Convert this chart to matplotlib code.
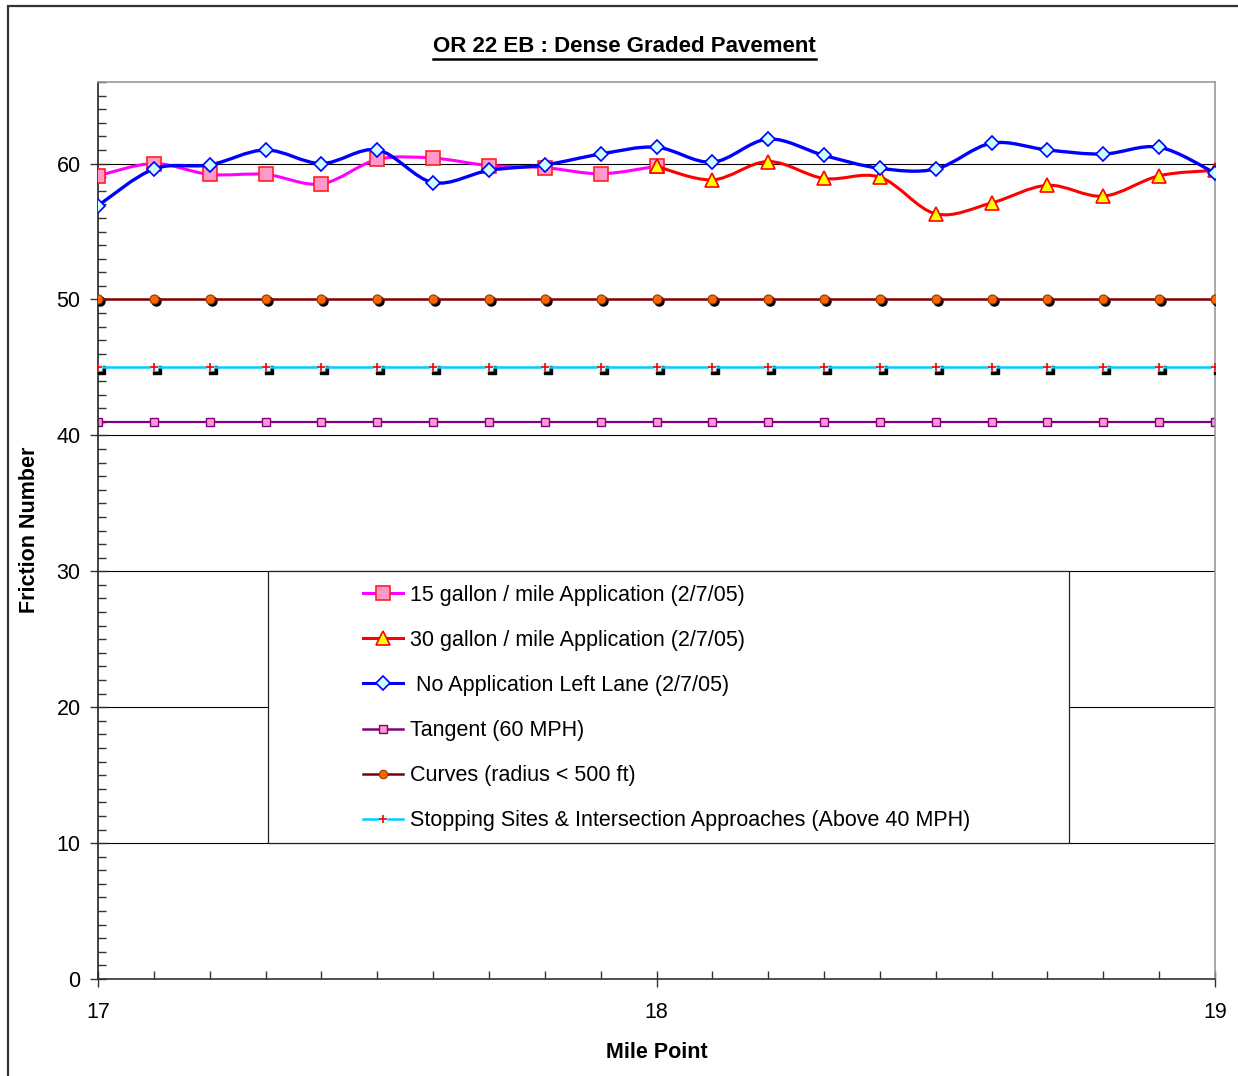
import matplotlib
matplotlib.use("Agg")
import matplotlib.pyplot as plt
import matplotlib.transforms as mtransforms
import numpy as np
from matplotlib.lines import Line2D
from matplotlib.patches import PathPatch, Rectangle
from matplotlib.path import Path

plt.rcParams["font.family"] = ["Liberation Sans", "DejaVu Sans"]

W, H = 1238, 1076

mile = [17.0, 17.1, 17.2, 17.3, 17.4, 17.5, 17.6, 17.7, 17.8, 17.9, 18.0,
        18.1, 18.2, 18.3, 18.4, 18.5, 18.6, 18.7, 18.8, 18.9, 19.0]

# 15 gallon / mile: 17.0 - 18.0
gal15_mile = mile[:11]
gal15 = [59.1, 60.0, 59.2, 59.2, 58.5, 60.3, 60.4, 59.85, 59.7, 59.25, 59.8]

# 30 gallon / mile: 18.0 - 19.0
gal30_mile = mile[10:]
gal30 = [59.8, 58.8, 60.15, 58.9, 59.0, 56.3, 57.1, 58.4, 57.6, 59.1, 59.5]

no_app = [56.9, 59.6, 59.9, 61.0, 60.0, 61.0, 58.6, 59.5, 59.9, 60.7, 61.2,
          60.1, 61.8, 60.6, 59.65, 59.6, 61.5, 61.0, 60.7, 61.2, 59.3]

tangent = [41] * len(mile)
curves = [50] * len(mile)
stopping = [45] * len(mile)

labels = [
    "15 gallon / mile Application (2/7/05)",
    "30 gallon / mile Application (2/7/05)",
    " No Application Left Lane (2/7/05)",
    "Tangent (60 MPH)",
    "Curves (radius < 500 ft)",
    "Stopping Sites & Intersection Approaches (Above 40 MPH)",
]


def smooth_path(x, y):
    # Bezier path through the points, like Excel's "smoothed line"
    pts = np.column_stack([x, y]).astype(float)
    ext = np.vstack([pts[0], pts, pts[-1]])
    verts = [pts[0]]
    codes = [Path.MOVETO]
    for i in range(len(pts) - 1):
        p0, p1, p2, p3 = ext[i], ext[i + 1], ext[i + 2], ext[i + 3]
        verts += [p1 + (p2 - p0) / 6, p2 - (p3 - p1) / 6, p2]
        codes += [Path.CURVE4] * 3
    return Path(verts, codes)


fig = plt.figure(figsize=(W / 100, H / 100), dpi=100)
ax = fig.add_axes([98 / W, 1 - 979 / H, (1215 - 98) / W, (979 - 82) / H])

# outer chart frame
fig.patches.append(Rectangle((8 / W, -0.05), 1.2, 1 - 6 / H + 0.05, transform=fig.transFigure,
                             facecolor="none", edgecolor="#333333", lw=1.6, zorder=-1))

ax.set_xlim(17, 19)
ax.set_ylim(0, 66)
ax.set_xticks([17, 18, 19])
ax.set_xticks(mile, minor=True)
ax.set_yticks(np.arange(0, 61, 10))
ax.set_yticks(np.arange(0, 67, 1), minor=True)
ax.tick_params(axis="both", which="major", direction="inout", length=12, width=1,
               labelsize=15.5, color="#333333")
ax.tick_params(axis="both", which="minor", direction="in", length=6, width=1, color="#333333")
ax.tick_params(axis="y", which="major", pad=6.5)
ax.tick_params(axis="x", which="major", pad=10.5)

ax.yaxis.grid(True, which="major", color="black", lw=0.8)
ax.set_axisbelow(True)
for side in ["top", "right"]:
    ax.spines[side].set_color("#999999")
    ax.spines[side].set_linewidth(1.2)
ax.spines["left"].set_color("#222222")
ax.spines["bottom"].set_color("#333333")
ax.spines["left"].set_linewidth(1.2)
ax.spines["bottom"].set_linewidth(1.2)

# smoothed data series
ax.add_patch(PathPatch(smooth_path(gal15_mile, gal15), facecolor="none", edgecolor="#FF00FF", lw=2.2, zorder=3))
ax.plot(gal15_mile, gal15, ls="none", marker="s", ms=9.5, mfc="#FF99CC", mec="#FF2020", mew=1.2, zorder=3.1)

ax.add_patch(PathPatch(smooth_path(gal30_mile, gal30), facecolor="none", edgecolor="#FF0000", lw=2.2, zorder=3.2))
ax.plot(gal30_mile, gal30, ls="none", marker="^", ms=10.5, mfc="#FFFF00", mec="#FF0000", mew=1.2, zorder=3.3)

ax.add_patch(PathPatch(smooth_path(mile, no_app), facecolor="none", edgecolor="#0000FF", lw=2.4, zorder=3.4))
ax.plot(mile, no_app, ls="none", marker="D", ms=7.2, mfc="#CCFFFF", mec="#0000FF", mew=1.2, zorder=3.5)

# threshold lines
ax.plot(mile, tangent, color="#800080", lw=1.6, marker="s", ms=5.5, mfc="#FF99CC", mec="#800080", mew=1,
        zorder=2.5)

shadow = mtransforms.offset_copy(ax.transData, fig=fig, x=2, y=-2, units="dots")
ax.plot(mile, curves, ls="none", marker="o", ms=6.5, color="black", transform=shadow, zorder=2.55)
ax.plot(mile, curves, color="#800000", lw=1.8, marker="o", ms=6.5, mfc="#FF6600", mec="#993300", mew=0.8,
        zorder=2.6)

shadow2 = mtransforms.offset_copy(ax.transData, fig=fig, x=3, y=-3, units="dots")
ax.plot(mile, stopping, ls="none", marker="s", ms=6, color="black", transform=shadow2, zorder=2.65)
ax.plot(mile, stopping, color="#00CCFF", lw=1.8, marker="s", ms=6, mfc="#CCFFFF", mec="none", zorder=2.7)
ax.plot(mile, stopping, ls="none", marker="+", ms=6, mec="#FF0000", mew=1.2, zorder=2.75)

# legend
handles = [
    Line2D([], [], color="#FF00FF", lw=2.2, marker="s", ms=9.5, mfc="#FF99CC", mec="#FF2020", mew=1.2),
    Line2D([], [], color="#FF0000", lw=2.2, marker="^", ms=10.5, mfc="#FFFF00", mec="#FF0000", mew=1.2),
    Line2D([], [], color="#0000FF", lw=2.2, marker="D", ms=7.2, mfc="#CCFFFF", mec="#0000FF", mew=1.2),
    Line2D([], [], color="#800080", lw=1.8, marker="s", ms=5.5, mfc="#FF99CC", mec="#800080", mew=1),
    Line2D([], [], color="#800000", lw=1.8, marker="o", ms=6, mfc="#FF6600", mec="#993300", mew=0.8),
    (Line2D([], [], color="#00CCFF", lw=1.8, marker="s", ms=6, mfc="#CCFFFF", mec="none"),
     Line2D([], [], ls="none", marker="+", ms=6, mec="#FF0000", mew=1.2)),
]
ax.add_patch(Rectangle((268 / W, 1 - 843 / H), (1069 - 268) / W, (843 - 571) / H, transform=fig.transFigure,
                       facecolor="white", edgecolor="#222222", lw=0.9, zorder=8, clip_on=False))
leg = ax.legend(handles, labels, loc="upper left", bbox_to_anchor=(352 / W, 1 - 574 / H),
                bbox_transform=fig.transFigure, frameon=False, fontsize=15.5, borderpad=0,
                handlelength=1.86, handletextpad=0.33, labelspacing=1.12)
leg.set_zorder(10)

# texts
title = fig.text(624.5 / W, 1 - 47 / H, "OR 22 EB : Dense Graded Pavement", ha="center", va="center",
                 fontsize=16, fontweight="bold")
fig.text(656.5 / W, 1 - 1053 / H, "Mile Point", ha="center", va="center", fontsize=15.5, fontweight="bold")
fig.text(30 / W, 1 - 530 / H, "Friction Number", ha="center", va="center", rotation=90, fontsize=15.5,
         fontweight="bold")

# underline the title
fig.canvas.draw()
bb = title.get_window_extent().transformed(fig.transFigure.inverted())
fig.lines.append(Line2D([bb.x0, bb.x1], [bb.y0 - 1 / H, bb.y0 - 1 / H], transform=fig.transFigure,
                        color="black", lw=1.8))

fig.savefig("out.png", dpi=100)
